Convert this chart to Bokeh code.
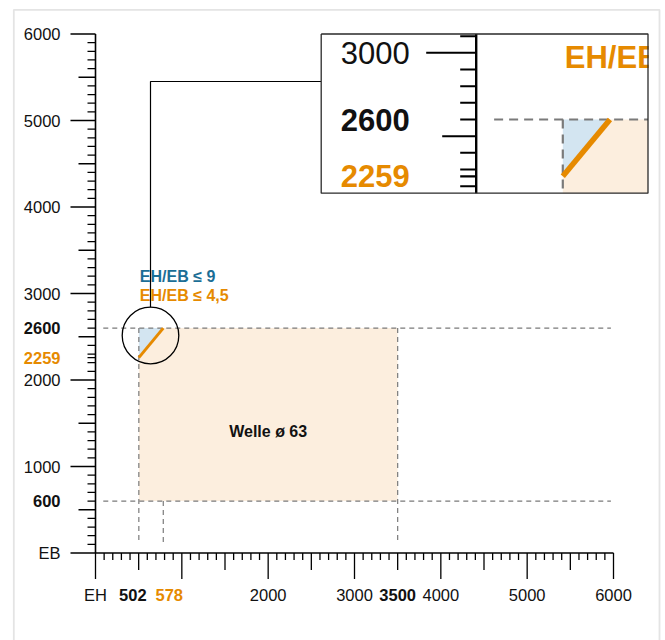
import numpy as np
from bokeh.plotting import figure
from bokeh.models import Range1d, ColumnDataSource
from bokeh.core.properties import value
from bokeh.embed import file_html
from bokeh.resources import INLINE

# ---------------- chart values ----------------
axis_max = 6000
x_tick_values = [0, 2000, 3000, 4000, 5000, 6000]
x_tick_labels = ["EH", "2000", "3000", "4000", "5000", "6000"]
y_tick_values = [0, 1000, 2000, 3000, 4000, 5000, 6000]
y_tick_labels = ["EB", "1000", "2000", "3000", "4000", "5000", "6000"]

eh_mark_labels = ["502", "578", "3500"]
eh_mark_values = [502, 785, 3500]          # where the picture draws these marks
eh_mark_colors = ["#111111", "#E68A00", "#111111"]
eh_mark_shift = [-6, 6, 0]                 # label nudges (px)
eb_mark_labels = ["600", "2259", "2600"]
eb_mark_values = [600, 2259, 2600]
eb_mark_colors = ["#111111", "#E68A00", "#111111"]

eh_min, eh_ratio, eh_max = 502, 785, 3500
eb_min, eb_ratio, eb_max = 600, 2259, 2600

ratio_labels = ["EH/EB \u2264 9", "EH/EB \u2264 4,5"]
ratio_label_eb = [3200, 2975]
ratio_colors = ["#1B6E96", "#E68A00"]

area_label = "Welle \u00f8 63"
area_label_eh, area_label_eb = 2000, 1400

guide_from, guide_to, guide_floor = 90, 5970, 110

# ---------------- styling / layout ----------------
FONT = value("Liberation Sans")
BEIGE = "#FCEEDE"
BLUE_FILL = "#D3E5F1"
ORANGE = "#E68A00"
DASH = "#7a7a7a"
LBL = "16.5px"
ANN = "16px"
ILBL = "31px"

W, H = 665, 640
MX0, MX1 = 95.0, 613.0      # canvas x of EH=0 / EH=6000
MY0, MY1 = 552.5, 33.5      # canvas y of EB=0 / EB=6000
sx = (MX1 - MX0) / axis_max
sy = (MY0 - MY1) / axis_max


def X(c):
    return (c - MX0) / sx


def Y(c):
    return (MY0 - c) / sy


# inset (magnified view)
ins_l, ins_div, ins_r, ins_t, ins_b = 320.7, 475.7, 647.5, 33.5, 192.7
k_in = 0.1667
ins_x_lo, ins_y_hi = -17.5, 3113.0


def IX(c):
    return ins_x_lo + (c - ins_div) / k_in


def IY(c):
    return ins_y_hi - (c - ins_t) / k_in


p = figure(width=W, height=H, x_range=Range1d(X(0), X(W)), y_range=Range1d(Y(H), Y(0)),
           output_backend="svg", toolbar_location=None,
           x_axis_location=None, y_axis_location=None, min_border=0,
           outline_line_color=None, background_fill_color="white",
           border_fill_color="white")
p.grid.visible = False
p.extra_x_ranges = {"ix": Range1d(IX(0), IX(W))}
p.extra_y_ranges = {"iy": Range1d(IY(H), IY(0))}
INS = dict(x_range_name="ix", y_range_name="iy")


def texts(xs, ys, labels, size, colors="#111111", bold=False, align="center",
          baseline="middle", xoff=None, **kw):
    n = len(labels)
    if isinstance(colors, str):
        colors = [colors] * n
    if xoff is None:
        xoff = [0] * n
    src = ColumnDataSource(dict(x=list(xs), y=list(ys), t=list(labels),
                                c=list(colors), xo=list(xoff)))
    p.text(x="x", y="y", text="t", source=src, text_color="c", text_font=FONT,
           text_font_size=size, text_font_style="bold" if bold else "normal",
           text_align=align, text_baseline=baseline, x_offset="xo", **kw)


area_x = [eh_min, eh_max, eh_max, eh_ratio, eh_min]
area_y = [eb_min, eb_min, eb_max, eb_max, eb_ratio]
tri_x = [eh_min, eh_ratio, eh_min]
tri_y = [eb_ratio, eb_max, eb_max]
h_guides = [eb_max, eb_min]
v_guides = [(eh_min, eb_max), (eh_ratio, eb_min), (eh_max, eb_max)]

# ---------------- main chart ----------------
p.patch(area_x, area_y, fill_color=BEIGE, line_color=None)
p.patch(tri_x, tri_y, fill_color=BLUE_FILL, line_color=None)
for yv in h_guides:
    p.line([guide_from, guide_to], [yv, yv], line_color=DASH, line_width=1.2, line_dash="5 4")
for xv, top in v_guides:
    p.line([xv, xv], [top, guide_floor], line_color=DASH, line_width=1.2, line_dash="5 4")
p.line([eh_min, eh_ratio], [eb_ratio, eb_max], line_color=ORANGE, line_width=3)

# ticks
steps = np.arange(0, axis_max + 1, 100)


def tlen(v, big, mid, small):
    return big if v % 1000 == 0 else (mid if v % 500 == 0 else small)


ylen = np.array([tlen(v, 25, 17, 8) for v in steps])
p.segment(x0=-ylen / sx, y0=steps, x1=np.zeros_like(steps), y1=steps,
          line_color="black", line_width=1.3)
p.segment(x0=[-8 / sx], y0=[eb_ratio], x1=[0], y1=[eb_ratio], line_color="black", line_width=1.3)
xlen = np.array([tlen(v, 26, 17, 7) for v in steps])
p.segment(x0=steps, y0=-xlen / sy, x1=steps, y1=np.zeros_like(steps),
          line_color="black", line_width=1.3)
p.line([0, 0], [0, axis_max], line_color="black", line_width=1.6)
p.line([0, axis_max], [0, 0], line_color="black", line_width=1.6)

# tick labels
ylab_x = X(60)
texts([ylab_x] * len(y_tick_values), y_tick_values, y_tick_labels, LBL, align="right")
texts([ylab_x] * 3, eb_mark_values, eb_mark_labels, LBL, colors=eb_mark_colors,
      bold=True, align="right")
xlab_y = Y(594)
texts(x_tick_values, [xlab_y] * len(x_tick_values), x_tick_labels, LBL)
texts(eh_mark_values, [xlab_y] * 3, eh_mark_labels, LBL, colors=eh_mark_colors,
      bold=True, xoff=eh_mark_shift)

# annotations
texts([eh_min] * 2, ratio_label_eb, ratio_labels, ANN, colors=ratio_colors,
      bold=True, align="left", xoff=[1, 1])
texts([area_label_eh], [area_label_eb], [area_label], ANN, bold=True)

# magnifier circle and connector
cx, cy, cr = 150.0, 335.0, 28.3
p.scatter([X(cx)], [Y(cy)], size=2 * cr, marker="circle", fill_color=None,
          line_color="black", line_width=1.3)
p.line([X(cx), X(cx), X(ins_l)], [Y(cy - cr), Y(81), Y(81)], line_color="black", line_width=1.2)

# ---------------- inset ----------------
p.quad(left=[X(ins_l)], right=[X(ins_r)], top=[Y(ins_t)], bottom=[Y(ins_b)],
       fill_color="white", line_color=None)
xlo, xhi, ylo, yhi = IX(ins_div), IX(ins_r), IY(ins_b), IY(ins_t)
p.patch(np.clip(area_x, xlo, xhi), np.clip(area_y, ylo, yhi), fill_color=BEIGE,
        line_color=None, **INS)
p.patch(np.clip(tri_x, xlo, xhi), np.clip(tri_y, ylo, yhi), fill_color=BLUE_FILL,
        line_color=None, **INS)
for yv in h_guides:
    if ylo <= yv <= yhi:
        p.line(np.clip([guide_from, guide_to], xlo, xhi), [yv, yv], line_color=DASH,
               line_width=2.2, line_dash="9 6", **INS)
for xv, top in v_guides:
    if xlo <= xv <= xhi and top > ylo:
        p.line([xv, xv], np.clip([top, guide_floor], ylo, yhi), line_color=DASH,
               line_width=2.2, line_dash="9 6", **INS)
p.line([eh_min, eh_ratio], [eb_ratio, eb_max], line_color=ORANGE, line_width=5.5, **INS)
keep = [i for i, v in enumerate(ratio_label_eb) if ylo + 60 <= v <= yhi]
texts([eh_min] * len(keep), [ratio_label_eb[i] for i in keep],
      [ratio_labels[i] for i in keep], ILBL, colors=[ratio_colors[i] for i in keep],
      bold=True, align="left", xoff=[2] * len(keep), **INS)
# mask the overflow right of the inset
p.quad(left=[X(ins_r + 0.7)], right=[X(W + 5)], top=[Y(ins_t - 2)], bottom=[Y(ins_b)],
       fill_color="white", line_color=None)

# inset axis
isteps = [v for v in steps if ylo <= v <= yhi]
ilen = np.array([tlen(v, 50, 34, 16) for v in isteps])
p.segment(x0=[IX(ins_div - L) for L in ilen], y0=isteps, x1=[IX(ins_div)] * len(isteps),
          y1=isteps, line_color="black", line_width=2, **INS)
p.segment(x0=[IX(ins_div - 16)], y0=[eb_ratio], x1=[IX(ins_div)], y1=[eb_ratio],
          line_color="black", line_width=2.2, **INS)
ilab_x = IX(409.3)
ky = [i for i, v in enumerate(y_tick_values) if ylo <= v <= yhi]
texts([ilab_x] * len(ky), [y_tick_values[i] for i in ky], [y_tick_labels[i] for i in ky],
      ILBL, align="right", **INS)
ke = [i for i, v in enumerate(eb_mark_values) if ylo <= v <= yhi]
texts([ilab_x] * len(ke), [eb_mark_values[i] for i in ke], [eb_mark_labels[i] for i in ke],
      ILBL, colors=[eb_mark_colors[i] for i in ke], bold=True, align="right", **INS)

p.line([X(ins_div), X(ins_div)], [Y(ins_t), Y(ins_b)], line_color="black", line_width=2.4)
p.line([X(ins_l), X(ins_r), X(ins_r), X(ins_l), X(ins_l)],
       [Y(ins_t), Y(ins_t), Y(ins_b), Y(ins_b), Y(ins_t)], line_color="#2a2a2a", line_width=1.3)

# outer light frame
p.line([X(13.3), X(659), X(659), X(13.3), X(13.3)], [Y(H + 10), Y(H + 10), Y(9.3), Y(9.3), Y(H + 10)],
       line_color="#e4e4e4", line_width=1.8)

open("out.html", "w").write(file_html(p, INLINE))
